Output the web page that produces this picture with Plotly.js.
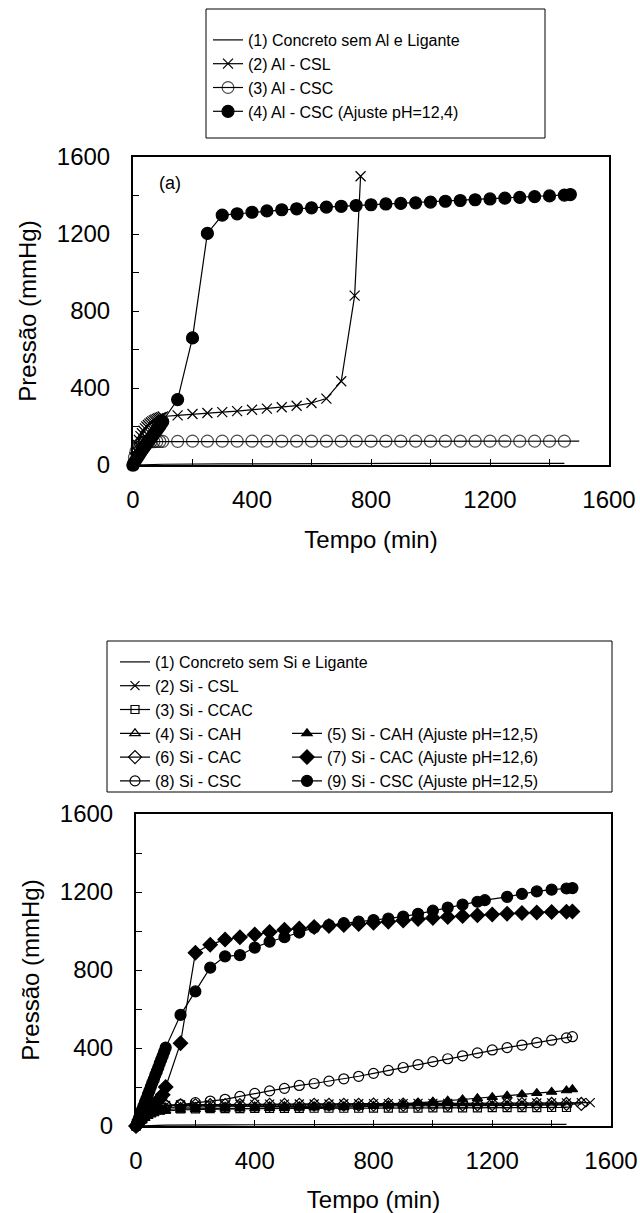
<!DOCTYPE html>
<html><head><meta charset="utf-8">
<script src="https://cdn.plot.ly/plotly-3.0.1.min.js"></script>
<style>html,body{margin:0;padding:0;background:#fff}#chart{width:640px;height:1213px}</style>
</head><body><div id="chart"></div>
<script>
// ---------------- DATA: chart (a) Al ----------------
const namesA = ['(1) Concreto sem Al e Ligante', '(2) Al - CSL', '(3) Al - CSC', '(4) Al - CSC (Ajuste pH=12,4)'];
const tA1 = [0, 100, 300, 600, 900, 1200, 1450];
const pA1 = [0, 4, 6, 8, 8, 8, 8];
const tA2 = [0,5,10,15,20,25,30,35,40,45,50,55,60,65,70,75,80,85,90,95,100,150,200,250,300,350,400,450,500,550,600,650,700,745,765];
const pA2 = [0,40,75,105,130,150,165,178,190,200,208,215,221,227,232,236,240,243,246,249,252,258,265,270,275,280,287,293,300,308,322,345,435,880,1500];
const tA3 = [0,5,10,15,20,25,30,40,50,60,70,80,90,100,150,200,250,300,350,400,450,500,550,600,650,700,750,800,850,900,950,1000,1050,1100,1150,1200,1250,1300,1350,1400,1450,1500];
const pA3 = [0,40,70,90,104,112,116,119,120,121,121,122,122,123,123,124,124,124,124,124,124,124,124,124,124,124,124,124,124,124,124,124,124,124,124,124,124,124,124,124,124,124];
const tA4 = [0,5,10,15,20,25,30,35,40,45,50,55,60,65,70,75,80,85,90,95,100,150,200,250,300,350,400,450,500,550,600,650,700,750,800,850,900,950,1000,1050,1100,1150,1200,1250,1300,1350,1400,1450,1470];
const pA4 = [0,15,27,40,52,63,75,86,97,108,119,130,140,151,161,172,182,192,203,214,225,340,660,1203,1298,1305,1313,1320,1326,1331,1336,1340,1344,1348,1352,1356,1359,1362,1366,1370,1374,1378,1382,1386,1390,1394,1398,1402,1405];

// ---------------- DATA: chart (b) Si ----------------
const namesB = ['(1) Concreto sem Si e Ligante', '(2) Si - CSL', '(3) Si - CCAC', '(4) Si - CAH', '(5) Si - CAH (Ajuste pH=12,5)',
                '(6) Si - CAC', '(7) Si - CAC (Ajuste pH=12,6)', '(8) Si - CSC', '(9) Si - CSC (Ajuste pH=12,5)'];
const tB1 = [0, 100, 300, 600, 900, 1200, 1450];
const pB1 = [0, 4, 6, 8, 8, 8, 8];
const tB2 = [0,10,20,30,40,50,60,80,100,150,200,250,300,350,400,450,500,550,600,650,700,750,800,850,900,950,1000,1050,1100,1150,1200,1250,1300,1350,1400,1450,1500,1530];
const pB2 = [0,30,55,75,88,96,100,104,106,108,109,110,110,111,111,112,112,113,113,113,114,114,115,115,115,116,116,116,117,117,117,118,118,118,119,119,120,120];
const tB3 = [0,10,20,30,40,50,60,80,100,150,200,250,300,350,400,450,500,550,600,650,700,750,800,850,900,950,1000,1050,1100,1150,1200,1250,1300,1350,1400,1450];
const pB3 = [0,25,45,60,70,76,80,84,86,88,88,89,89,89,90,90,90,90,91,91,91,91,92,92,92,92,93,93,93,93,94,94,94,94,95,95];
const tB4 = [0,10,20,30,40,50,60,80,100,150,200,250,300,350,400,450,500,550,600,650,700,750,800,850,900,950,1000,1050,1100,1150,1200,1250,1300,1350,1400,1450];
const pB4 = [0,28,50,66,77,84,88,92,95,97,98,99,99,100,100,101,101,101,102,102,102,103,103,103,104,104,104,105,105,105,106,106,106,107,107,108];
const tB5 = [0,10,20,30,40,50,60,80,100,150,200,250,300,350,400,450,500,550,600,650,700,750,800,850,900,950,1000,1050,1100,1150,1200,1250,1300,1350,1400,1450,1470];
const pB5 = [0,15,28,40,50,58,64,72,77,82,85,87,88,89,90,91,92,93,94,95,96,98,102,107,112,118,124,130,136,142,148,155,162,168,175,182,188];
const tB6 = [0,10,20,30,40,50,60,80,100,150,200,250,300,350,400,450,500,550,600,650,700,750,800,850,900,950,1000,1050,1100,1150,1200,1250,1300,1350,1400,1450,1500];
const pB6 = [0,32,58,76,88,95,99,103,105,106,106,107,107,107,108,108,108,108,109,109,109,109,110,110,110,110,111,111,111,111,112,112,112,112,113,113,113];
const tB7 = [0,10,20,30,40,50,60,70,80,90,100,150,200,250,300,350,400,450,500,550,600,650,700,750,800,850,900,950,1000,1050,1100,1150,1200,1250,1300,1350,1400,1450,1470];
const pB7 = [0,18,35,52,70,88,105,122,140,160,200,425,888,930,956,968,982,995,1006,1013,1020,1026,1031,1036,1042,1048,1054,1061,1067,1072,1077,1081,1085,1089,1092,1095,1097,1099,1100];
const tB8 = [0,10,20,30,40,50,60,80,100,150,200,250,300,350,400,450,500,550,600,650,700,750,800,850,900,950,1000,1050,1100,1150,1200,1250,1300,1350,1400,1450,1470];
const pB8 = [0,30,55,72,84,92,97,102,105,110,120,128,137,152,167,180,193,208,218,230,242,255,270,285,300,315,330,345,360,375,390,402,415,428,440,452,458];
const tB9 = [0,5,10,15,20,25,30,35,40,45,50,55,60,65,70,75,80,85,90,95,100,150,200,250,300,350,400,450,500,550,600,650,700,750,800,850,900,950,1000,1050,1100,1150,1175,1250,1300,1350,1400,1450,1470];
const pB9 = [0,22,41,60,82,101,121,140,161,180,201,222,240,261,280,300,322,341,360,381,402,570,690,812,870,876,915,945,968,992,1017,1030,1040,1048,1056,1064,1074,1088,1104,1120,1135,1150,1158,1175,1190,1203,1212,1218,1220];

// ---------------- AXES TICKS ----------------
const tickVals = [0,200,400,600,800,1000,1200,1400,1600];
const tickText = ['0','','400','','800','','1200','','1600'];

// ---------------- LAYOUT HELPERS ----------------
const W = 640, H = 1213;
const X = px => px / W;
const Y = py => 1 - py / H;
const FONT = 'Liberation Sans, Arial, Helvetica, sans-serif';

function tr(name, t, p, sym, size, xa, ya, leg, opts) {
  opts = opts || {};
  const o = {
    type: 'scatter', name: name, x: t, y: p, xaxis: xa, yaxis: ya, legend: leg,
    mode: sym === 'none' ? 'lines' : 'lines+markers',
    cliponaxis: false,
    line: {color: '#000', width: 1.2},
  };
  if (sym !== 'none') {
    o.marker = {symbol: sym, size: size, color: '#000', line: {color: '#000', width: 1.2}};
    if (opts.lastNoMarker) o.marker.size = t.map((v, i) => i === t.length - 1 ? 0 : size);
  }
  return o;
}

const data = [
  tr(namesA[0], tA1, pA1, 'none', 0, 'x', 'y', 'legend'),
  tr(namesA[1], tA2, pA2, 'x-thin-open', 10, 'x', 'y', 'legend'),
  tr(namesA[2], tA3, pA3, 'circle-open', 12, 'x', 'y', 'legend', {lastNoMarker: true}),
  tr(namesA[3], tA4, pA4, 'circle', 12, 'x', 'y', 'legend'),

  tr(namesB[0], tB1, pB1, 'none', 0, 'x2', 'y2', 'legend2'),
  tr(namesB[1], tB2, pB2, 'x-thin-open', 9, 'x2', 'y2', 'legend2'),
  tr(namesB[2], tB3, pB3, 'square-open', 8, 'x2', 'y2', 'legend2'),
  tr(namesB[3], tB4, pB4, 'triangle-up-open', 9, 'x2', 'y2', 'legend3'),
  tr(namesB[5], tB6, pB6, 'diamond-open', 10, 'x2', 'y2', 'legend3'),
  tr(namesB[7], tB8, pB8, 'circle-open', 10, 'x2', 'y2', 'legend3'),
  tr(namesB[4], tB5, pB5, 'triangle-up', 9, 'x2', 'y2', 'legend4'),
  tr(namesB[6], tB7, pB7, 'diamond', 11, 'x2', 'y2', 'legend4'),
  tr(namesB[8], tB9, pB9, 'circle', 11, 'x2', 'y2', 'legend4'),
];

function xAx(dom, anchor) {
  return {domain: dom, anchor: anchor, range: [0, 1600], tickvals: tickVals, ticktext: tickText,
    ticks: 'inside', ticklen: 6, tickwidth: 1, tickcolor: '#000', showline: true, linewidth: 2, linecolor: '#000',
    mirror: true, showgrid: false, zeroline: false, ticklabelstandoff: 12,
    tickfont: {family: FONT, size: 24, color: '#000'},
    title: {text: 'Tempo (min)', font: {family: FONT, size: 24, color: '#000'}, standoff: 19}};
}
function yAx(dom, anchor) {
  return {domain: dom, anchor: anchor, range: [0, 1600], tickvals: tickVals, ticktext: tickText,
    ticks: 'inside', ticklen: 6, tickwidth: 1, tickcolor: '#000', showline: true, linewidth: 2, linecolor: '#000',
    mirror: true, showgrid: false, zeroline: false, ticklabelstandoff: 16,
    tickfont: {family: FONT, size: 24, color: '#000'},
    title: {text: 'Pressão (mmHg)', font: {family: FONT, size: 24, color: '#000'}, standoff: 13}};
}

const legFont = {family: FONT, size: 16, color: '#000'};
function leg(px, py) {
  return {x: X(px), y: Y(py), xref: 'paper', yref: 'paper', xanchor: 'left', yanchor: 'top',
          bgcolor: 'rgba(0,0,0,0)', borderwidth: 0, font: legFont, itemwidth: 30, tracegroupgap: 0};
}

const layout = {
  width: W, height: H, margin: {l: 0, r: 0, t: 0, b: 0},
  paper_bgcolor: '#fff', plot_bgcolor: '#fff',
  font: {family: FONT, color: '#000'},
  showlegend: true,
  xaxis: xAx([X(133), X(609)], 'y'),
  yaxis: yAx([Y(465), Y(157)], 'x'),
  xaxis2: xAx([X(136), X(611)], 'y2'),
  yaxis2: yAx([Y(1126), Y(814)], 'x2'),
  legend: leg(208, 23),
  legend2: leg(115, 645),
  legend3: leg(115, 716.4),
  legend4: leg(287, 716.4),
  shapes: [
    {type: 'rect', xref: 'paper', yref: 'paper', x0: X(206), x1: X(545), y0: Y(9), y1: Y(138), line: {color: '#000', width: 1}},
    {type: 'rect', xref: 'paper', yref: 'paper', x0: X(107), x1: X(612), y0: Y(641), y1: Y(792), line: {color: '#000', width: 1}},
  ],
  annotations: [
    {text: '(a)', xref: 'paper', yref: 'paper', x: X(170), y: Y(183), xanchor: 'center', yanchor: 'middle',
     showarrow: false, font: {family: FONT, size: 18, color: '#000'}},
  ],
};

Plotly.newPlot('chart', data, layout, {displayModeBar: false, staticPlot: true});
</script></body></html>
